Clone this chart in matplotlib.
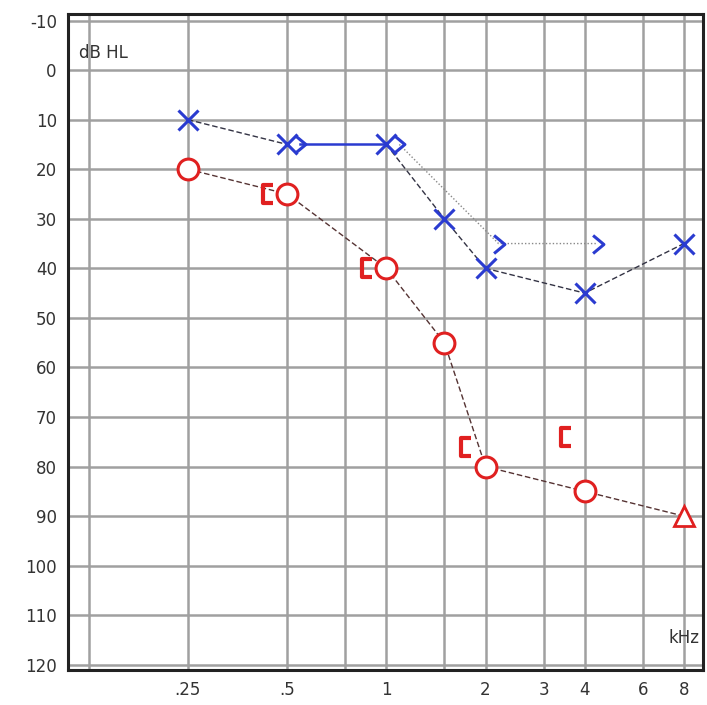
import numpy as np
import matplotlib.pyplot as plt
from matplotlib.path import Path

plt.rcParams['axes.unicode_minus'] = False

# audiogram data (kHz, dB HL)
freq_ticks = [0.25, 0.5, 1, 2, 3, 4, 6, 8]
freq_tick_labels = ['.25', '.5', '1', '2', '3', '4', '6', '8']
freq_grid = [0.125, 0.25, 0.5, 0.75, 1, 1.5, 2, 3, 4, 6, 8]
db_ticks = list(range(-10, 121, 10))

left_air_f = [0.25, 0.5, 1, 1.5, 2, 4, 8]
left_air_db = [10, 15, 15, 30, 40, 45, 35]
left_bone_f = [0.5, 1, 2, 4]
left_bone_db = [15, 15, 35, 35]

right_air_f = [0.25, 0.5, 1, 1.5, 2, 4]
right_air_db = [20, 25, 40, 55, 80, 85]
right_nr_f = [8]
right_nr_db = [90]
right_bone_f = [0.5, 1, 2, 4]
right_bone_db = [25, 40, 76, 74]

blue = '#2a3bd0'
red = '#e02020'

# open marker shapes for masked bone conduction
chevron = Path([(-0.6, -1), (0.6, 0), (-0.6, 1)], [Path.MOVETO, Path.LINETO, Path.LINETO])
bracket = Path([(0.5, -1), (-0.5, -1), (-0.5, 1), (0.5, 1)],
               [Path.MOVETO, Path.LINETO, Path.LINETO, Path.LINETO])

fig = plt.figure(figsize=(7.07, 7.05), dpi=100)
ax = fig.add_axes([0.096, 0.05, 0.898, 0.93])
ax.set_xscale('log', base=2)
ax.set_xlim(2 ** -3.21, 2 ** 3.19)
ax.set_ylim(121, -11.3)

for f in freq_grid:
    ax.axvline(f, color='#a0a0a0', lw=1.8, zorder=0)
for d in db_ticks:
    ax.axhline(d, color='#a0a0a0', lw=1.8, zorder=0)

ax.set_xticks(freq_ticks)
ax.set_xticklabels(freq_tick_labels)
ax.xaxis.set_minor_locator(plt.NullLocator())
ax.set_yticks(db_ticks)
ax.tick_params(length=0, labelsize=12, colors='#333333', pad=8)
for s in ax.spines.values():
    s.set_linewidth(2.2)
    s.set_color('#222222')

# bone symbols sit beside the frequency line
lb_x = np.array(left_bone_f) * 2 ** (13 / 99)
rb_x = np.array(right_bone_f) * 2 ** (-19 / 99)

# connecting lines
ax.plot(left_air_f[:2], left_air_db[:2], ls=(0, (4, 2)), color='#333344', lw=1, zorder=2)
ax.plot([lb_x[0], left_air_f[2]], [left_bone_db[0], left_air_db[2]], color=blue, lw=1.8, zorder=2)
ax.plot(left_air_f[2:], left_air_db[2:], ls=(0, (4, 2)), color='#333344', lw=1, zorder=2)
ax.plot(lb_x[1:], left_bone_db[1:], ls=(0, (1, 1.5)), color='#888888', lw=1, zorder=2)
ax.plot(right_air_f + right_nr_f, right_air_db + right_nr_db, ls=(0, (4, 2)),
        color='#553333', lw=1, zorder=2)

# symbols
ax.plot(left_air_f, left_air_db, ls='none', marker='x', ms=15, mew=2.2, color=blue, zorder=3)
ax.plot(lb_x, left_bone_db, ls='none', marker=chevron, ms=13, mew=2.2,
        mfc='none', mec=blue, zorder=3)
ax.plot(right_air_f, right_air_db, ls='none', marker='o', ms=15, mew=2.2,
        mfc='white', mec=red, zorder=3)
ax.plot(right_nr_f, right_nr_db, ls='none', marker='^', ms=15, mew=2,
        mfc='white', mec=red, zorder=3)
ax.plot(rb_x, right_bone_db, ls='none', marker=bracket, ms=13, mew=3,
        mfc='none', mec=red, zorder=3)

ax.text(0.018, 0.955, 'dB HL', transform=ax.transAxes, fontsize=12, color='#333333', va='top')
ax.text(0.995, 0.035, 'kHz', transform=ax.transAxes, fontsize=12, color='#333333', ha='right', va='bottom')

fig.savefig('out.png')
